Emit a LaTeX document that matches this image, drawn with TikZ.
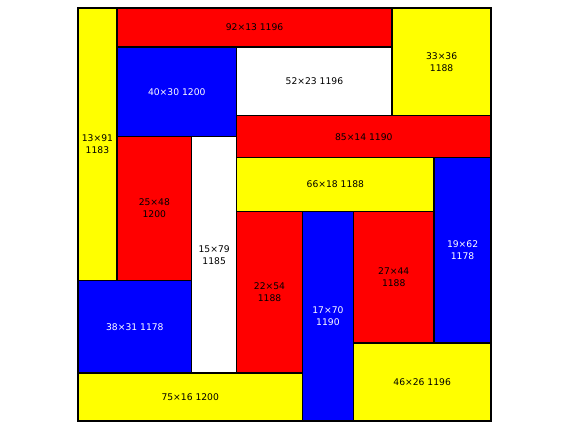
\documentclass[tikz,border=0pt]{standalone}
\usepackage{fontspec}
\setmainfont{DejaVu Sans}
\definecolor{TileYellow}{RGB}{255,255,0}
\definecolor{TileRed}{RGB}{255,0,0}
\definecolor{TileBlue}{RGB}{0,0,255}
\definecolor{TileWhite}{RGB}{255,255,255}
\tikzset{
  tile/.style={draw=black,line width=1.5pt},
  tag/.style={font=\fontsize{9.2}{12}\selectfont,align=center,inner sep=0pt}
}

\begin{document}
\begin{tikzpicture}[x=1pt,y=1pt]
\useasboundingbox (0,0) rectangle (570,430);

\begin{scope}[shift={(78pt,422pt)},x={(2.9928pt,0)},y={(0,-2.9928pt)}]
% tiles: name / left / top / right / bottom / fill / text colour / label
\foreach \nm/\xa/\ya/\xb/\yb/\clr/\tc/\txt in {
  tA/0/0/13/91/TileYellow/black/{13×91\\1183},
  tB/13/0/105/13/TileRed/black/{92×13 1196},
  tC/105/0/138/36/TileYellow/black/{33×36\\1188},
  tD/13/13/53/43/TileBlue/white/{40×30 1200},
  tE/53/13/105/36/TileWhite/black/{52×23 1196},
  tF/53/36/138/50/TileRed/black/{85×14 1190},
  tG/13/43/38/91/TileRed/black/{25×48\\1200},
  tH/38/43/53/122/TileWhite/black/{15×79\\1185},
  tI/53/50/119/68/TileYellow/black/{66×18 1188},
  tJ/119/50/138/112/TileBlue/white/{19×62\\1178},
  tK/53/68/75/122/TileRed/black/{22×54\\1188},
  tL/75/68/92/138/TileBlue/white/{17×70\\1190},
  tM/92/68/119/112/TileRed/black/{27×44\\1188},
  tN/0/91/38/122/TileBlue/white/{38×31 1178},
  tO/0/122/75/138/TileYellow/black/{75×16 1200},
  tP/92/112/138/138/TileYellow/black/{46×26 1196}}
{
  \filldraw[tile,fill=\clr] (\xa,\ya) rectangle (\xb,\yb);
  \node[tag,text=\tc] (\nm) at ({(\xa+\xb)/2},{(\ya+\yb)/2}) {\txt};
}
\draw[tile] (0,0) rectangle (138,138);
\end{scope}

\end{tikzpicture}
\end{document}
